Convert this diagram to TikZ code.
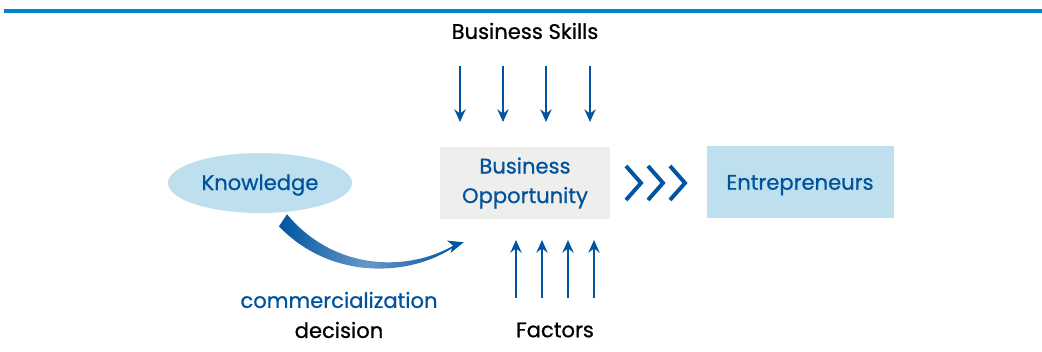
\documentclass[tikz,border=0pt]{standalone}
\usepackage{fontspec}
\setmainfont{Poppins}[FakeBold=0.7]
\usetikzlibrary{positioning,arrows.meta,calc,shapes.geometric}
\definecolor{lineblue}{RGB}{0,134,204}
\definecolor{darkblue}{RGB}{0,84,162}
\definecolor{textblue}{RGB}{0,82,155}
\definecolor{boxgray}{RGB}{238,238,236}
\definecolor{lightblue}{RGB}{190,224,238}

\begin{document}
\begin{tikzpicture}[x=0.025cm,y=-0.025cm,
    every node/.style={font=\fontsize{15}{17}\selectfont,inner sep=0pt},
    blacktext/.style={text=black},
    bluetext/.style={text=textblue},
    flow/.style={darkblue,line width=1.6pt,-{Stealth[length=9pt,width=8pt,inset=3pt]}},
    chevron/.style={darkblue,line width=2.8pt}]
    \useasboundingbox (0,0) rectangle (1042,352);

    %top rule
    \draw[lineblue,line width=2.4pt] (4,11) -- (1042,11);

    %boxes
    \node[fill=boxgray,minimum width=170*0.025cm,minimum height=72*0.025cm,
      align=center,bluetext] (opp) at (525,183) {Business\\[4pt]Opportunity};
    \node[fill=lightblue,minimum width=187*0.025cm,minimum height=72*0.025cm,
      text height=14pt,text depth=3pt,bluetext] (entre) at (800,182) {Entrepreneurs};
    \node[fill=lightblue,ellipse,minimum width=184*0.025cm,minimum height=60*0.025cm,
      text height=13pt,text depth=3pt,bluetext] (know) at (260,183) {Knowledge};

    %labels
    \node[blacktext] (skills) at (525,31) {Business Skills};
    \node[blacktext] (factors) at (555,330) {Factors};
    \node[bluetext] (comm) at (339,300) {commercialization};
    \node[blacktext] (dec) at (339,330) {decision};

    %arrows from skills and factors
    \foreach \x in {460,503,546,590} {
      \draw[flow] (\x,66) -- (\x,122);
    }
    \foreach \x in {516,542,568,594} {
      \draw[flow] (\x,298) -- (\x,240);
    }

    %chevrons towards entrepreneurs
    \foreach \x in {626,648,670} {
      \draw[chevron] (\x,166) -- (\x+15,183) -- (\x,200);
    }

    %knowledge to opportunity
    \coordinate (kstart) at ($(know.south)+(25,4)$);
    \coordinate (oend) at ($(opp.south west)+(24,23)$);
    \shade[left color=darkblue,right color=darkblue,middle color=darkblue!60]
      ($(kstart)+(2,-3)$) .. controls (335,272) and (410,272) .. ($(oend)+(-8,2)$)
      -- ($(oend)+(-8,3.5)$) .. controls (410,278) and (330,280) .. ($(kstart)+(-6,9)$) -- cycle;
    \draw[darkblue,line width=0.8pt,-{Stealth[length=11pt,width=9pt,inset=3pt]}]
      ($(oend)+(-10,3)$) -- (oend);
\end{tikzpicture}
\end{document}
